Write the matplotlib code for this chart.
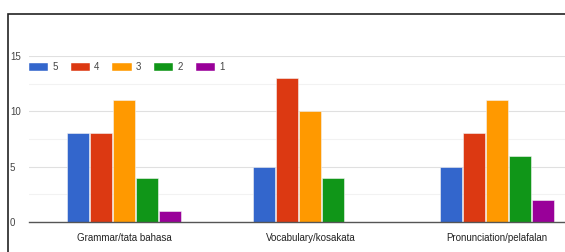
import matplotlib
matplotlib.use("Agg")
import matplotlib.pyplot as plt
from matplotlib.patches import Rectangle, Patch
import numpy as np

categories = ["Grammar/tata bahasa", "Vocabulary/kosakata", "Pronunciation/pelafalan"]
series_names = ["5", "4", "3", "2", "1"]
values = {
    "5": [8, 5, 5],
    "4": [8, 13, 8],
    "3": [11, 10, 11],
    "2": [4, 4, 6],
    "1": [1, 0, 2],
}
colors = ["#3366cc", "#dc3912", "#ff9900", "#109618", "#990099"]
yticks = [0, 5, 10, 15]

plt.rcParams['font.family'] = ['Liberation Sans', 'DejaVu Sans']
fig = plt.figure(figsize=(5.65, 2.52), dpi=100)
fig.patches.append(Rectangle((8/565, -0.1), 1.2, 1 - 14/252 + 0.1, transform=fig.transFigure,
                             fill=False, edgecolor="#222222", linewidth=1.2, zorder=0))

ax = fig.add_axes([29/565, 1 - 222/252, (590 - 29)/565, (222 - 56)/252])
x = np.arange(len(categories))
step = 0.1233
bw = 0.118
for i, (name, c) in enumerate(zip(series_names, colors)):
    offs = (i - 2) * step
    ax.bar(x + offs, values[name], width=bw, color=c, edgecolor="#f4f4f4", linewidth=0.4, zorder=3)

ax.set_xlim(-0.51, 2.5)
ax.set_ylim(0, 15)
ax.set_yticks(yticks)
ax.set_yticks([2.5, 7.5, 12.5], minor=True)
ax.yaxis.grid(True, which="major", color="#e0e0e0", linewidth=0.8, zorder=0)
ax.yaxis.grid(True, which="minor", color="#f2f2f2", linewidth=0.8, zorder=0)
ax.tick_params(axis="y", which="both", length=0, labelsize=7, labelcolor="#444444", pad=13.7)
ax.set_yticklabels([str(t) for t in yticks], ha="left")
ax.set_xticks(x)
ax.set_xticklabels(categories)
ax.tick_params(axis="x", length=0, labelsize=7, labelcolor="#222222", pad=8)
for s in ["top", "right", "left"]:
    ax.spines[s].set_visible(False)
ax.spines["bottom"].set_color("#555555")
ax.spines["bottom"].set_linewidth(1.0)
ax.spines["bottom"].set_zorder(4)

handles = [Patch(facecolor=c, edgecolor="white", linewidth=0.3) for c in colors]
leg = fig.legend(handles, series_names, loc="center left", bbox_to_anchor=(29/565, 1 - 67/252),
                 ncol=5, frameon=False, fontsize=7, handlelength=2.0, handleheight=0.9,
                 handletextpad=0.4, columnspacing=1.33, borderaxespad=0, borderpad=0)
for t in leg.get_texts():
    t.set_color("#444444")

fig.savefig("out.png", dpi=100)
